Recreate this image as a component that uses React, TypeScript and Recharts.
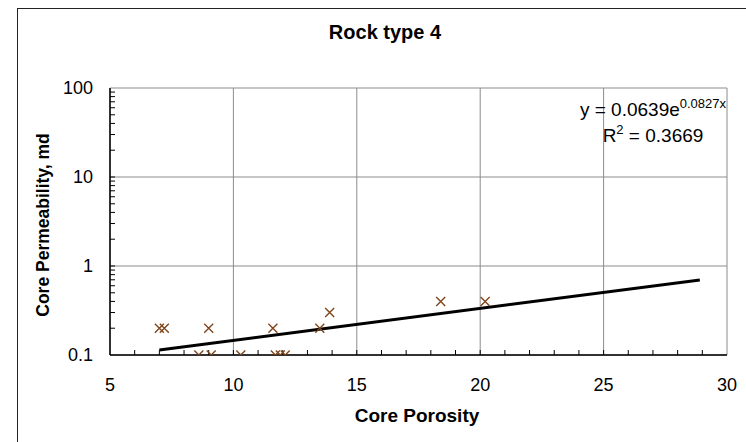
import { CartesianGrid, Scatter, ScatterChart, XAxis, YAxis } from "recharts";

// Rock type 4: core porosity vs core permeability (log scale)
const porosity = [7.0, 7.2, 9.0, 8.6, 9.1, 10.3, 11.6, 11.7, 11.9, 12.1, 13.5, 13.9, 18.4, 20.2];
const permeability = [0.2, 0.2, 0.2, 0.1, 0.1, 0.1, 0.2, 0.1, 0.1, 0.1, 0.2, 0.3, 0.4, 0.4];

// exponential trendline endpoints (straight on the log axis)
const trendPorosity = [7.0, 28.9];
const trendPermeability = [0.114, 0.697];

const xMajorTicks = [5, 10, 15, 20, 25, 30];
const xMinorTicks = [6, 7, 8, 9, 10, 11, 12, 13, 14, 15, 16, 17, 18, 19, 20, 21, 22, 23, 24, 25, 26, 27, 28, 29];
const yMajorTicks = [0.1, 1, 10, 100];
const yMinorTicks = [
  0.2, 0.3, 0.4, 0.5, 0.6, 0.7, 0.8, 0.9,
  1, 2, 3, 4, 5, 6, 7, 8, 9,
  10, 20, 30, 40, 50, 60, 70, 80, 90,
];

const W = 746;
const H = 442;
const FONT = '"Liberation Sans", Arial, sans-serif';
const MARKER = "#80461B";
const GRID = "#8c8c8c";

const points = porosity.map((x, i) => ({ x, y: permeability[i] }));
const trend = trendPorosity.map((x, i) => ({ x, y: trendPermeability[i] }));
// minor tick marks sit on the axes: left edge is x = 5, bottom edge is y = 0.1
const yTickMarks = yMinorTicks.map((y) => ({ x: 5, y }));
const xTickMarks = xMinorTicks.map((x) => ({ x, y: 0.1 }));

function Cross(props: any) {
  const { cx, cy } = props;
  if (cx == null || cy == null) return <g />;
  const r = 4.5;
  return (
    <path
      d={`M${cx - r},${cy - r}L${cx + r},${cy + r}M${cx - r},${cy + r}L${cx + r},${cy - r}`}
      stroke={MARKER}
      strokeWidth={1.4}
      fill="none"
    />
  );
}

function YTick(props: any) {
  const { cx, cy } = props;
  if (cx == null || cy == null) return <g />;
  return <line x1={cx} y1={cy} x2={cx + 5} y2={cy} stroke="#000" strokeWidth={1} />;
}

function XTick(props: any) {
  const { cx, cy } = props;
  if (cx == null || cy == null) return <g />;
  return <line x1={cx} y1={cy} x2={cx} y2={cy - 5} stroke="#000" strokeWidth={1} />;
}

export default function App() {
  return (
    <div
      style={{
        position: "fixed",
        left: 0,
        top: 0,
        width: W,
        height: H,
        background: "#fff",
        overflow: "hidden",
        fontFamily: FONT,
      }}
    >
      <div
        style={{
          position: "absolute",
          left: 17,
          top: 8,
          width: 780,
          height: 480,
          border: "1px solid #222",
        }}
      />
      <div style={{ position: "absolute", left: 0, top: 0 }}>
        <ScatterChart width={W} height={H} margin={{ top: 88, right: 19, bottom: 47, left: 50 }}>
          <CartesianGrid
            stroke={GRID}
            strokeWidth={1}
            horizontalValues={yMajorTicks}
            verticalValues={xMajorTicks}
          />
          <XAxis
            type="number"
            dataKey="x"
            domain={[5, 30]}
            ticks={xMajorTicks}
            interval={0}
            height={40}
            tickLine={false}
            tickSize={0}
            tickMargin={23}
            axisLine={{ stroke: "#000", strokeWidth: 1.5 }}
            tick={{ fill: "#000", fontSize: 18, fontFamily: FONT }}
            allowDataOverflow
          />
          <YAxis
            type="number"
            dataKey="y"
            scale="log"
            domain={[0.1, 100]}
            ticks={yMajorTicks}
            interval={0}
            width={60}
            tickLine={false}
            tickSize={0}
            tickMargin={17}
            axisLine={{ stroke: "#000", strokeWidth: 1.5 }}
            tick={{ fill: "#000", fontSize: 18, fontFamily: FONT }}
            allowDataOverflow
          />
          <Scatter data={yTickMarks} shape={YTick} isAnimationActive={false} />
          <Scatter data={xTickMarks} shape={XTick} isAnimationActive={false} />
          <Scatter
            data={trend}
            line={{ stroke: "#000", strokeWidth: 3 }}
            lineType="joint"
            shape={() => <g />}
            isAnimationActive={false}
          />
          <Scatter data={points} shape={Cross} isAnimationActive={false} />
        </ScatterChart>
      </div>
      <svg
        width={W}
        height={H}
        style={{ position: "absolute", left: 0, top: 0, pointerEvents: "none" }}
        fontFamily={FONT}
      >
        <text x={385} y={39} textAnchor="middle" fontSize={20} fontWeight="bold" fill="#000">
          Rock type 4
        </text>
        <text x={417} y={422} textAnchor="middle" fontSize={19} fontWeight="bold" fill="#000">
          Core Porosity
        </text>
        <text
          x={49}
          y={225}
          transform="rotate(-90 49 225)"
          textAnchor="middle"
          fontSize={17.5}
          fontWeight="bold"
          fill="#000"
        >
          Core Permeability, md
        </text>
        <text x={653} y={116} textAnchor="middle" fontSize={19} fill="#000">
          y = 0.0639e
          <tspan fontSize={13} dy={-8}>
            0.0827x
          </tspan>
        </text>
        <text x={653} y={142} textAnchor="middle" fontSize={19} fill="#000">
          R
          <tspan fontSize={13} dy={-8}>
            2
          </tspan>
          <tspan dy={8}> = 0.3669</tspan>
        </text>
      </svg>
    </div>
  );
}
